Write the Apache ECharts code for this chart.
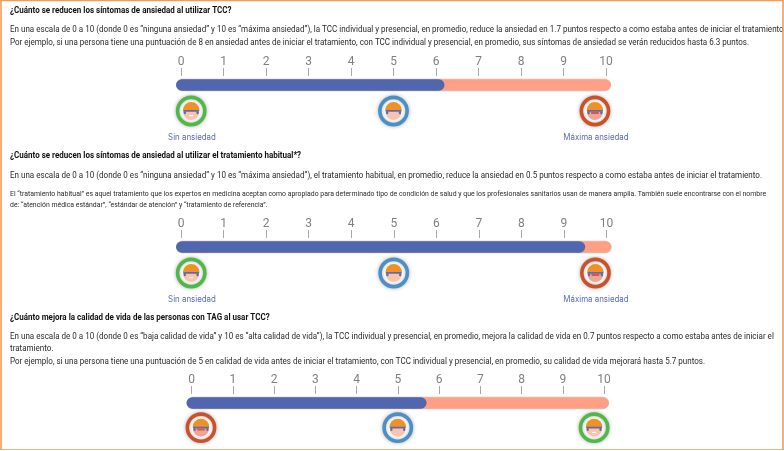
<!DOCTYPE html>
<html><head><meta charset="utf-8">
<style>html,body{margin:0;padding:0;background:#fff}#c{width:784px;height:451px;filter:blur(0.3px)}</style>
<script src="https://cdn.jsdelivr.net/npm/echarts@6/dist/echarts.min.js"></script>
</head><body><div id="c"></div>
<script>
const scaleTicks = [0,1,2,3,4,5,6,7,8,9,10];
const reachedValues = [6.2, 9.5, 5.7];
const scaleMax = [10, 10, 10];
const faceValues = [[0.24,5,9.74],[0.24,5,9.74],[0.23,5,9.76]];
const faceKinds = [['good','mid','bad'],['good','mid','bad'],['bad','mid','good']];
const endLabels = [['Sin ansiedad','Máxima ansiedad'],['Sin ansiedad','Máxima ansiedad'],[]];
const titles = [
 '¿Cuánto se reducen los síntomas de ansiedad al utilizar TCC?',
 '¿Cuánto se reducen los síntomas de ansiedad al utilizar el tratamiento habitual*?',
 '¿Cuánto mejora la calidad de vida de las personas con TAG al usar TCC?'];
const bodyLines = [
 ['En una escala de 0 a 10 (donde 0 es “ninguna ansiedad” y 10 es “máxima ansiedad”), la TCC individual y presencial, en promedio, reduce la ansiedad en 1.7 puntos respecto a como estaba antes de iniciar el tratamiento',
  'Por ejemplo, si una persona tiene una puntuación de 8 en ansiedad antes de iniciar el tratamiento, con TCC individual y presencial, en promedio, sus síntomas de ansiedad se verán reducidos hasta 6.3 puntos.'],
 ['En una escala de 0 a 10 (donde 0 es “ninguna ansiedad” y 10 es “máxima ansiedad”), el tratamiento habitual, en promedio, reduce la ansiedad en 0.5 puntos respecto a como estaba antes de iniciar el tratamiento.'],
 ['En una escala de 0 a 10 (donde 0 es “baja calidad de vida” y 10 es “alta calidad de vida”), la TCC individual y presencial, en promedio, mejora la calidad de vida en 0.7 puntos respecto a como estaba antes de iniciar el',
  'tratamiento.',
 'Por ejemplo, si una persona tiene una puntuación de 5 en calidad de vida antes de iniciar el tratamiento, con TCC individual y presencial, en promedio, su calidad de vida mejorará hasta 5.7 puntos.']];
const noteLines = [
 'El “tratamiento habitual” es aquel tratamiento que los expertos en medicina aceptan como apropiado para determinado tipo de condición de salud y que los profesionales sanitarios usan de manera amplia. También suele encontrarse con el nombre',
 'de: “atención médica estándar”, “estándar de atención” y “tratamiento de referencia”.'];

const FONT = 'Roboto';
const layout = [
 {left:181, width:425, top:76, titleY:10.5, bodyY:[30,43], note:[]},
 {left:181, width:425.5, top:238, titleY:155.5, bodyY:[175.5], note:[194.5,205.5]},
 {left:191.5, width:412.5, top:394, titleY:317.5, bodyY:[337,349,362], note:[]}];
const ringColor = {good:'#4fb848', mid:'#4b90c4', bad:'#c9522a'};
const skinColor = {good:'#f8c4ac', mid:'#f8c4ac', bad:'#f0a594'};
const K = 4;

function txt(x,y,s,size,weight,color,extra,font){
  return {type:'text',x,y,scaleX:1/K,scaleY:1.06/K,silent:true,style:Object.assign({text:s,font:(weight||400)+' '+(size*K)+'px '+(font||FONT),fill:color||'#222',textVerticalAlign:'middle'},extra||{})};
}
function face(cx,cy,kind){
  const c=[];
  c.push({type:'circle',shape:{cx,cy,r:13.6},style:{fill:'#fff',stroke:ringColor[kind],lineWidth:3.6,shadowBlur:4,shadowColor:'rgba(0,0,0,.25)'}});
  c.push({type:'circle',shape:{cx,cy:cy+1,r:8},style:{fill:skinColor[kind]}});
  c.push({type:'sector',shape:{cx,cy:cy-0.5,r:8.4,r0:0,startAngle:Math.PI,endAngle:2*Math.PI},style:{fill:'#ee9126'}});
  c.push({type:'rect',shape:{x:cx-8,y:cy-1,width:16,height:1.7,r:0.8},style:{fill:'#5a6cb4'}});
  c.push({type:'rect',shape:{x:cx-7.5,y:cy+0.2,width:2.2,height:3,r:1},style:{fill:'#5a6cb4'}});
  c.push({type:'rect',shape:{x:cx+5.3,y:cy+0.2,width:2.2,height:3,r:1},style:{fill:'#5a6cb4'}});
  if(kind==='good')c.push({type:'rect',shape:{x:cx-2,y:cy+4.2,width:4,height:1},style:{fill:'#fff'}});
  if(kind==='bad')c.push({type:'rect',shape:{x:cx-4,y:cy+0.7,width:8,height:2.2,r:1},style:{fill:'#d8584a'}});
  return c;
}

const grids=[],xAxes=[],yAxes=[],series=[],graphics=[];
layout.forEach((L,i)=>{
  grids.push({left:L.left,width:L.width,top:L.top,height:50});
  xAxes.push({gridIndex:i,type:'value',position:'top',min:0,max:10,interval:1,
    axisLine:{show:false},splitLine:{show:false},
    axisTick:{show:true,length:8,lineStyle:{color:'#a8a8a8',width:1}},
    axisLabel:{fontFamily:FONT,fontSize:12,color:'#808080',margin:8,showMinLabel:true,showMaxLabel:true,
      formatter:v=>scaleTicks.includes(v)?String(v):''}});
  yAxes.push({gridIndex:i,type:'value',min:0,max:1,inverse:true,show:false});
  series.push({type:'custom',xAxisIndex:i,yAxisIndex:i,silent:true,clip:false,
    data:[[reachedValues[i],scaleMax[i]]],
    renderItem(p,api){
      const top=api.coord([0,0])[1]+3.2, h=11.6;
      const x0=api.coord([0,0])[0], xv=api.coord([api.value(0),0])[0], xm=api.coord([api.value(1),0])[0];
      return {type:'group',children:[
        {type:'rect',shape:{x:x0-5,y:top-.6,width:xm-x0+10,height:h+1.2,r:6.4},style:{fill:'#ddd'}},
        {type:'rect',shape:{x:x0,y:top,width:xm-x0+5,height:h,r:[0,5.8,5.8,0]},style:{fill:'#ff9f85'}},
        {type:'rect',shape:{x:x0-5,y:top,width:xv-x0+5,height:h,r:5.8},style:{fill:'#5066ae'}}
      ]};
    }});
  series.push({type:'custom',xAxisIndex:i,yAxisIndex:i,silent:true,clip:false,
    data:faceValues[i].map((v,k)=>[v,k]),
    renderItem(p,api){
      const pt=api.coord([api.value(0),0]);
      return {type:'group',children:face(pt[0],pt[1]+(i===2?33.7:35),faceKinds[i][api.value(1)])};
    }});
  graphics.push(txt(10,L.titleY,titles[i],8.02,700,'#111'));
  bodyLines[i].forEach((s,k)=>graphics.push(txt(10,L.bodyY[k],s,8.04,400,'#2a2a2a')));
  L.note.forEach((y,k)=>graphics.push(txt(10,y,noteLines[k],6.9,400,'#2a2a2a')));
  if(endLabels[i].length){
    const y=L.top+61;
    graphics.push(txt(192,y,endLabels[i][0],7.9,400,'#5a6bb0',{textAlign:'center'},'Inter'));
    graphics.push(txt(596,y,endLabels[i][1],7.9,400,'#5a6bb0',{textAlign:'center'},'Inter'));
  }
});
graphics.push({type:'rect',silent:true,shape:{x:1,y:0.5,width:782,height:449.5},style:{fill:'none',stroke:'#f79a55',lineWidth:1.6}});
graphics.push({type:'rect',silent:true,shape:{x:0,y:450,width:784,height:1},style:{fill:'#fff'}});

const chart=echarts.init(document.getElementById('c'),null,{renderer:'canvas',width:784,height:451});
chart.setOption({animation:false,backgroundColor:'#fff',grid:grids,xAxis:xAxes,yAxis:yAxes,series,graphic:graphics});
</script></body></html>
